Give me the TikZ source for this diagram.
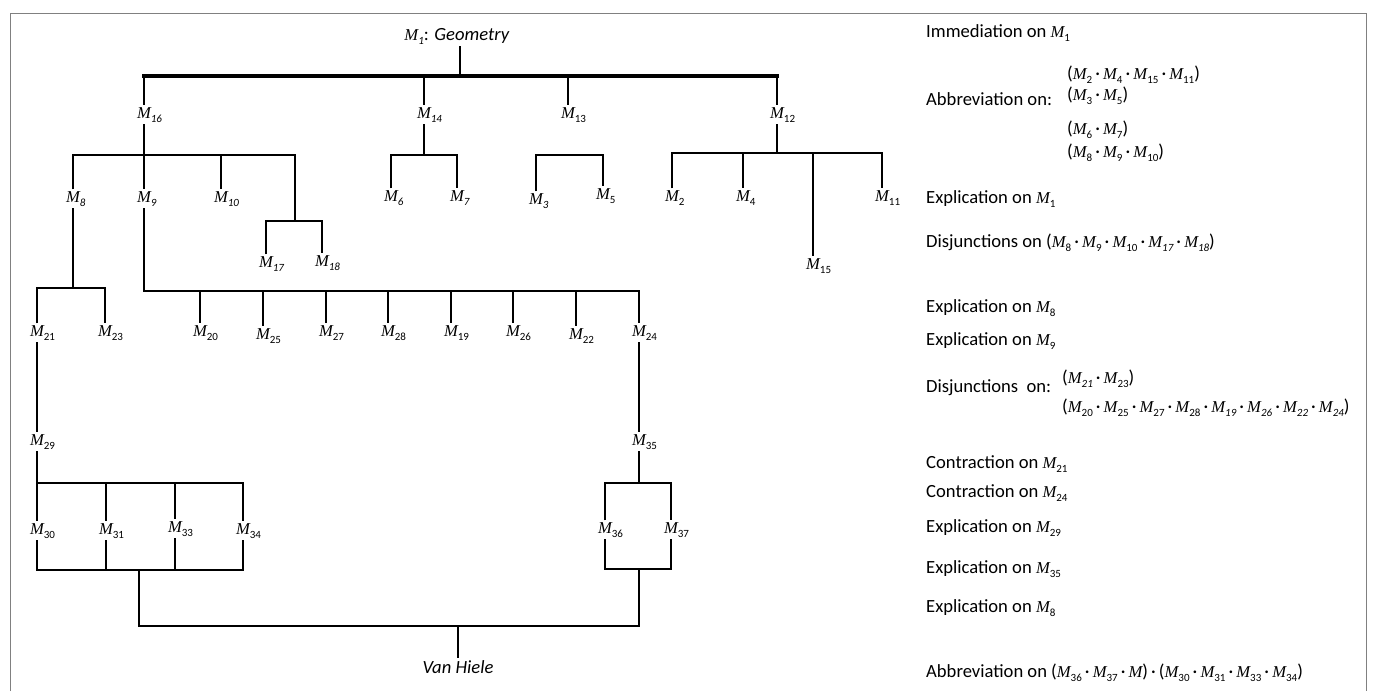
\documentclass[tikz,border=0pt]{standalone}
\usepackage{fontspec}
\setmainfont{Carlito}
\newfontfamily\tfont{Liberation Serif}
\newcommand{\Mg}{{\tfont\itshape\fontsize{16.6}{20}\selectfont M}}
\newcommand{\subU}[1]{\raisebox{-4.5pt}{\fontsize{11}{11}\selectfont #1}}
\newcommand{\subI}[1]{\raisebox{-4.5pt}{\fontsize{11}{11}\selectfont\itshape #1}}
\newcommand{\TU}[1]{\Mg\rlap{\subU{#1}}}
\newcommand{\TI}[1]{\Mg\rlap{\subI{#1}}}
\newcommand{\MU}[1]{\Mg\subU{#1}}
\newcommand{\MI}[1]{\Mg\subI{#1}}
\newcommand{\dd}{\,·\,}
\tikzset{
  lab/.style={font=\fontsize{17}{20}\selectfont, inner sep=1.5pt, anchor=base},
  ln/.style={line width=2pt, line join=miter},
  tk/.style={line width=3.2pt, line cap=rect},
  tv/.style={line width=2.6pt},
  txt/.style={font=\fontsize{18.6}{22}\selectfont, inner sep=0pt, anchor=base west},
  frame/.style={draw=gray, line width=1pt},
}
\begin{document}
\begin{tikzpicture}[x=1pt,y=-1pt]
\useasboundingbox (0,0) rectangle (1376,691);
\draw[frame] (10,691) -- (10,13) -- (1366,13) -- (1366,691);

% ---------- tree labels ----------
\node[lab,font=\fontsize{18.6}{22}\selectfont] (g) at (457,40) {\Mg\subI{1}: \textit{Geometry}};
\node[lab] (m16) at (144,118) {\TI{16}};
\node[lab] (m14) at (424,118) {\TI{14}};
\node[lab] (m13) at (568,118) {\TU{13}};
\node[lab] (m12) at (777,118) {\TU{12}};

\node[lab] (m8)  at (73,202)  {\TI{8}};
\node[lab] (m9)  at (144,202) {\TI{9}};
\node[lab] (m10) at (221,202) {\TI{10}};
\node[lab] (m17) at (266,267) {\TI{17}};
\node[lab] (m18) at (322,266) {\TI{18}};
\node[lab] (m6)  at (391,201) {\TI{6}};
\node[lab] (m7)  at (457,201) {\TI{7}};
\node[lab] (m3)  at (536,204) {\TI{3}};
\node[lab] (m5)  at (603,199) {\TU{5}};
\node[lab] (m2)  at (672,201) {\TU{2}};
\node[lab] (m4)  at (743,201) {\TU{4}};
\node[lab] (m15) at (813,269) {\TU{15}};
\node[lab] (m11) at (882,201) {\TU{11}};

\node[lab] (m21) at (37,336)  {\TU{21}};
\node[lab] (m23) at (105,336) {\TU{23}};
\node[lab] (m20) at (200,336) {\TU{20}};
\node[lab] (m25) at (263,339) {\TU{25}};
\node[lab] (m27) at (326,336) {\TU{27}};
\node[lab] (m28) at (388,336) {\TU{28}};
\node[lab] (m19) at (451,336) {\TU{19}};
\node[lab] (m26) at (513,336) {\TU{26}};
\node[lab] (m22) at (576,339) {\TU{22}};
\node[lab] (m24) at (639,336) {\TU{24}};

\node[lab] (m29) at (37,445)  {\TU{29}};
\node[lab] (m35) at (639,445) {\TU{35}};
\node[lab] (m30) at (37,534)  {\TU{30}};
\node[lab] (m31) at (106,534) {\TU{31}};
\node[lab] (m33) at (175,532) {\TU{33}};
\node[lab] (m34) at (243,534) {\TU{34}};
\node[lab] (m36) at (605,533) {\TU{36}};
\node[lab] (m37) at (671,533) {\TU{37}};
\node[lab,font=\fontsize{18.6}{22}\selectfont] (vh) at (458,673) {\textit{Van Hiele}};

% ---------- junction coordinates ----------
\coordinate (r0)  at (460,76);
\coordinate (b16) at (144,155);
\coordinate (c295) at (295,221);
\coordinate (b14) at (424,155);
\coordinate (b13) at (570,155);
\coordinate (b12) at (777,153);
\coordinate (b8)  at (73,288);
\coordinate (b9)  at (144,291);
\coordinate (b29) at (37,483);
\coordinate (b30) at (37,570);
\coordinate (j1)  at (139,570);
\coordinate (jb)  at (139,626);
\coordinate (j3)  at (639,569);
\coordinate (b35) at (639,483);
\coordinate (jv)  at (458,626);

% ---------- connectors ----------
\draw[tv] (g.south -| r0) -- (r0);
\draw[tk] (m16 |- r0) -- (m12 |- r0);
\foreach \n in {m16,m14,m13,m12} \draw[ln] (\n |- r0) -- (\n);

\draw[ln] (m16) -- (b16);
\draw[ln] (m8) -- (m8 |- b16) -- (c295 |- b16) -- (c295);
\draw[ln] (m9 |- b16) -- (m9);
\draw[ln] (m10 |- b16) -- (m10);
\draw[ln] (m17) -- (m17 |- c295) -- (m18 |- c295) -- (m18);

\draw[ln] (m14) -- (b14);
\draw[ln] (m6) -- (m6 |- b14) -- (m7 |- b14) -- (m7);

\draw[ln] (m3) -- (m3 |- b13) -- (m5 |- b13) -- (m5);

\draw[ln] (m12) -- (b12);
\draw[ln] (m2) -- (m2 |- b12) -- (m11 |- b12) -- (m11);
\draw[ln] (m4 |- b12) -- (m4);
\draw[ln] (m15 |- b12) -- (m15);

\draw[ln] (m8) -- (b8);
\draw[ln] (m21) -- (m21 |- b8) -- (m23 |- b8) -- (m23);

\draw[ln] (m9) -- (b9) -- (m24 |- b9) -- (m24);
\foreach \n in {m20,m25,m27,m28,m19,m26,m22} \draw[ln] (\n |- b9) -- (\n);

\draw[ln] (m21) -- (m29);
\draw[ln] (m29) -- (b29) -- (m34 |- b29) -- (m34);
\foreach \n in {m30,m31,m33} \draw[ln] (\n |- b29) -- (\n);
\draw[ln] (m30) -- (b30) -- (m34 |- b30) -- (m34);
\foreach \n in {m31,m33} \draw[ln] (\n) -- (\n |- b30);
\draw[ln] (j1) -- (jb) -- (j3 |- jb) -- (j3);

\draw[ln] (m24) -- (m35);
\draw[ln] (m35) -- (b35);
\draw[ln] (m36) -- (m36 |- b35) -- (m37 |- b35) -- (m37);
\draw[ln] (m36) -- (m36 |- j3) -- (m37 |- j3) -- (m37);
\draw[tv] (jv) -- (vh);

% ---------- right column ----------
\node[txt] (t1) at (926,37) {Immediation on \MU{1}};
\node[txt] (t2) at (926,105) {Abbreviation on:};
\node[txt] (t2a) at (1067,79) {(\MU{2}\dd\MU{4}\dd\MU{15}\dd\MU{11})};
\node[txt] (t2b) at (1067,100) {(\MU{3}\dd\MU{5})};
\node[txt] (t2c) at (1067,134) {(\MU{6}\dd\MU{7})};
\node[txt] (t2d) at (1067,157) {(\MU{8}\dd\MU{9}\dd\MU{10})};
\node[txt] (t3) at (926,203) {Explication on \MU{1}};
\node[txt] (t4) at (926,247) {Disjunctions on (\MU{8}\dd\MU{9}\dd\MU{10}\dd\MI{17}\dd\MI{18})};
\node[txt] (t5) at (926,312) {Explication on \MU{8}};
\node[txt] (t6) at (926,345) {Explication on \MU{9}};
\node[txt] (t7) at (926,392) {Disjunctions\ \ on:};
\node[txt] (t7a) at (1062,383) {(\MI{21}\dd\MU{23})};
\node[txt] (t7b) at (1062,412) {(\MU{20}\dd\MU{25}\dd\MU{27}\dd\MU{28}\dd\MI{19}\dd\MI{26}\dd\MI{22}\dd\MI{24})};
\node[txt] (t8) at (926,468) {Contraction on \MU{21}};
\node[txt] (t9) at (926,497) {Contraction on \MU{24}};
\node[txt] (t10) at (926,532) {Explication on \MU{29}};
\node[txt] (t11) at (926,573) {Explication on \MU{35}};
\node[txt] (t12) at (926,612) {Explication on \MU{8}};
\node[txt] (t13) at (926,677) {Abbreviation on (\MU{36}\dd\MU{37}\dd\Mg)\dd(\MU{30}\dd\MU{31}\dd\MU{33}\dd\MU{34})};
\end{tikzpicture}
\end{document}
